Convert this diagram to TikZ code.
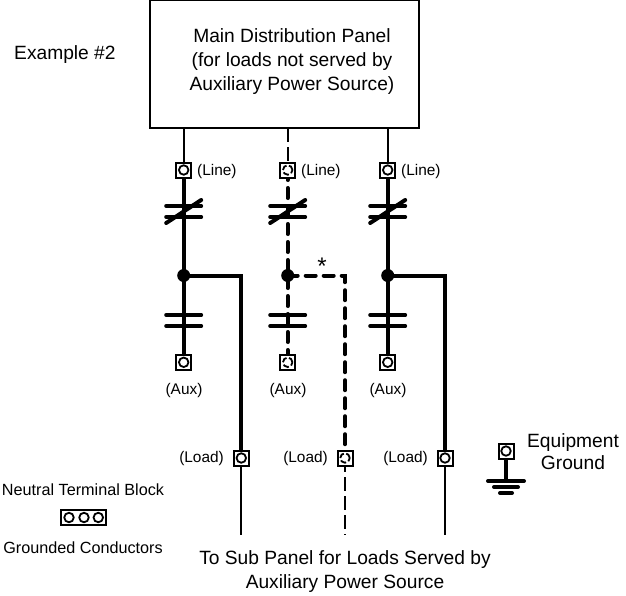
\documentclass[tikz,border=0pt]{standalone}
\usepackage{fontspec}
\setmainfont{Liberation Sans}
\tikzset{
  x=1pt,y=-1pt,
  term/.style={draw=black,line width=2pt,fill=white,minimum size=15pt,inner sep=0pt,outer sep=0pt,rectangle},
  hole/.style={draw=black,line width=1.8pt,fill=white,circle,minimum size=9.5pt,inner sep=0pt},
  dhole/.style={hole,dash pattern=on 6pt off 2.5pt},
  heavy/.style={line width=4pt},
  thinw/.style={line width=2pt},
  heavyd/.style={line width=4pt,line cap=round,dash pattern=on 10pt off 8pt},
  thind/.style={line width=2pt,dash pattern=on 14pt off 5pt},
  bar/.style={line width=4pt,line cap=round},
  jn/.style={circle,fill=black,minimum size=13pt,inner sep=0pt,outer sep=0pt},
  lab/.style={font=\fontsize{15.4}{18}\selectfont,inner sep=0pt},
  big/.style={font=\fontsize{19.2}{24}\selectfont,inner sep=0pt,align=center},
  nb/.style={font=\fontsize{16.2}{18}\selectfont,inner sep=0pt}
}
\newcommand{\contactnc}[2]{%
  \draw[bar] (#1-17.5,#2) -- (#1+17.5,#2);
  \draw[bar] (#1-17.5,#2+11) -- (#1+17.5,#2+11);
  \draw[bar] (#1-17.5,#2+17) -- (#1+17.5,#2-6);
}
\newcommand{\contactno}[2]{%
  \draw[bar] (#1-17.5,#2) -- (#1+17.5,#2);
  \draw[bar] (#1-17.5,#2+11) -- (#1+17.5,#2+11);
}
\begin{document}
\begin{tikzpicture}
\useasboundingbox (0,0) rectangle (626,595);
\fill[white] (0,0) rectangle (626,595);
\node[draw=black,line width=2pt,minimum width=269pt,minimum height=128pt,anchor=north west,inner sep=0pt,outer sep=0pt] (panel) at (150,0) {};
\node[big] (ptext) at (292,61.5) {Main Distribution Panel\\(for loads not served by\\Auxiliary Power Source)};
\node[big,anchor=west] (ex) at (14,55) {Example \#2};

% contact coordinates
\coordinate (a1) at (183.7,275.5); \coordinate (b1) at (287.7,275.5); \coordinate (c1) at (387.7,275.5);
\coordinate (ctr1) at (241.3,275.5); \coordinate (ctr2) at (345,275.5); \coordinate (ctr3) at (445,275.5);
\coordinate (pa) at (183.7,128); \coordinate (pb) at (287.7,128); \coordinate (pc) at (387.7,128);
\coordinate (ea) at (241.3,535); \coordinate (eb) at (345,535); \coordinate (ec) at (445,535);

% wires
\draw[thinw] (pa) -- (183.7,170);
\draw[thind] (pb) -- (287.7,170);
\draw[thinw] (pc) -- (387.7,170);
\draw[heavy] (183.7,170) -- (183.7,362);
\draw[heavyd] (287.7,170) -- (287.7,362);
\draw[heavy] (387.7,170) -- (387.7,362);
\draw[heavy] (a1) -- (ctr1) -- (241.3,458);
\draw[heavyd] (b1) -- (ctr2) -- (345,458);
\draw[heavy] (c1) -- (ctr3) -- (445,458);
\draw[thinw] (241.3,458) -- (ea);
\draw[thind] (345,458) -- (eb);
\draw[thinw] (445,458) -- (ec);

% contacts
\contactnc{183.7}{206}\contactnc{287.7}{206}\contactnc{387.7}{206}
\contactno{183.7}{315}\contactno{287.7}{315}\contactno{387.7}{315}

% junctions
\node[jn] (j1) at (a1) {};
\node[jn] (j2) at (b1) {};
\node[jn] (j3) at (c1) {};

% terminals
\foreach \n/\x/\y in {la/183.7/170,lc/387.7/170,xa/183.7/362.3,xc/387.7/362.3,ta/241.3/458,tc/445/458,gt/506/451}{
  \node[term] (\n) at (\x,\y) {};
  \node[hole] at (\n) {};
}
\foreach \n/\x/\y in {lb/287.7/170,xb/287.7/362.3,tb/345/458}{
  \node[term] (\n) at (\x,\y) {};
  \node[dhole] at (\n) {};
}

% labels
\node[lab,anchor=west] at (197,172) {(Line)};
\node[lab,anchor=west] at (301,172) {(Line)};
\node[lab,anchor=west] at (401,172) {(Line)};
\node[lab] at (184,391) {(Aux)};
\node[lab] at (288,391) {(Aux)};
\node[lab] at (388,391) {(Aux)};
\node[lab,anchor=east] at (224,459) {(Load)};
\node[lab,anchor=east] at (328,459) {(Load)};
\node[lab,anchor=east] at (428,459) {(Load)};
\node[font=\fontsize{24}{24}\selectfont,inner sep=0pt] at (322,266) {*};

% ground
\coordinate (gb) at (506,481);
\draw[heavy] (gt) -- (gb);
\draw[bar] (488,481) -- (524,481);
\draw[bar] (494,487) -- (518,487);
\draw[bar] (500,493) -- (512,493);
\node[big,font=\fontsize{19.2}{22}\selectfont] at (573,452) {Equipment\\Ground};

% neutral block
\node[nb] at (83,490) {Neutral Terminal Block};
\node[draw=black,line width=2pt,minimum width=45pt,minimum height=15pt,inner sep=0pt] (blk) at (83.5,517.5) {};
\foreach \x in {69,84,98.3}{\node[hole] at (\x,517.5) {};}
\node[nb] at (83,547.5) {Grounded Conductors};

% bottom text
\node[big] at (345,572) {To Sub Panel for Loads Served by\\Auxiliary Power Source};
\end{tikzpicture}
\end{document}
